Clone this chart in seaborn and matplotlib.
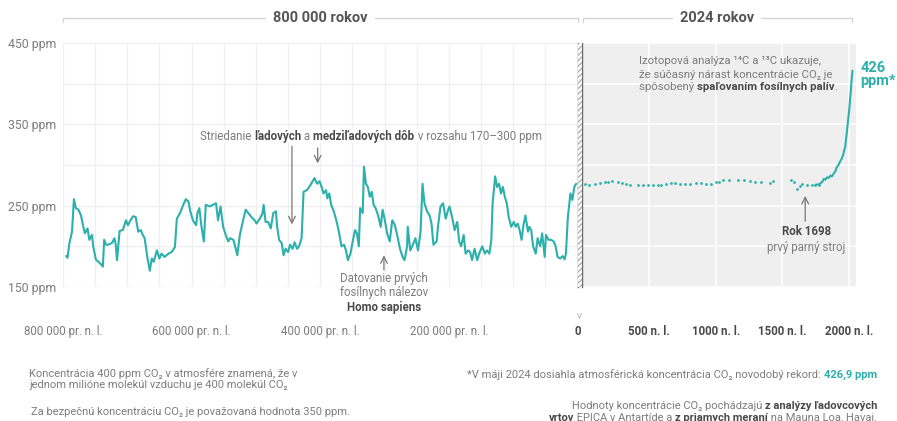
import matplotlib
matplotlib.use("Agg")
import matplotlib.pyplot as plt
import matplotlib.transforms as mtransforms
from matplotlib.patches import Rectangle
from matplotlib.ticker import FixedLocator, MultipleLocator
import pandas as pd
import seaborn as sns

TEAL = "#2bb0ab"
GREY = "#7c7c7c"
DARK = "#4a4a4a"
REG = "normal"

# --- EPICA ice core (thousands of years before present, ppm) ---
ice_age_ka = [795, 793, 790, 786, 783, 780, 776, 772, 769, 766, 762, 759, 755, 753, 749, 745,
              741, 738, 736, 733, 730, 724, 720, 718, 716, 712, 707, 702, 699, 695, 691, 687,
              683, 679, 676, 673, 669, 665, 662, 659, 654, 650, 647, 642, 636, 631, 626, 623,
              618, 613, 609, 605, 602, 598, 593, 591, 588, 585, 581, 578, 572, 567, 562, 559,
              555, 551, 547, 543, 540, 535, 533, 529, 525, 520, 516, 512, 507, 502, 499, 494,
              490, 488, 485, 481, 477, 473, 469, 467, 464, 460, 457, 454, 450, 447, 443, 440,
              436, 433, 429, 426, 421, 417, 412, 409, 405, 401, 397, 395, 391, 389, 386, 383,
              379, 375, 371, 367, 363, 360, 357, 353, 350, 346, 343, 340, 338, 334, 332, 329,
              326, 323, 320, 317, 314, 310, 306, 303, 300, 296, 292, 288, 284, 281, 276, 272,
              269, 265, 264, 260, 256, 252, 248, 244, 241, 238, 234, 230, 227, 224, 219, 217,
              213, 209, 205, 201, 199, 195, 191, 187, 184, 181, 177, 174, 170, 167, 164, 160,
              156, 152, 148, 144, 141, 137, 134, 132, 128, 125, 122, 119, 116, 113, 110, 107,
              103, 99, 96, 93, 90, 87, 84, 81, 77, 75, 72, 69, 65, 62, 58, 55,
              51, 49, 45, 41, 37, 34, 31, 27, 23, 20, 18, 15, 11, 8, 5, 2]
ice_ppm = [188, 186, 204, 218, 258, 247, 245, 238, 226, 216, 222, 208, 214, 200, 184, 181,
           178, 175, 208, 202, 202, 204, 210, 202, 183, 219, 220, 232, 226, 232, 237, 236,
           218, 220, 214, 210, 187, 170, 185, 181, 195, 185, 191, 187, 191, 193, 199, 234,
           241, 251, 258, 255, 243, 232, 226, 241, 247, 226, 206, 251, 249, 251, 253, 232,
           249, 224, 214, 206, 210, 208, 202, 189, 214, 232, 245, 241, 236, 232, 228, 234,
           240, 251, 230, 230, 222, 241, 243, 224, 208, 204, 189, 197, 193, 202, 197, 205,
           197, 200, 210, 267, 269, 273, 280, 284, 277, 280, 271, 265, 269, 259, 265, 251,
           243, 232, 218, 200, 202, 195, 183, 191, 204, 220, 216, 200, 247, 241, 298, 277,
           273, 261, 267, 251, 247, 238, 224, 245, 234, 216, 206, 232, 226, 216, 197, 187,
           183, 200, 224, 195, 202, 210, 195, 218, 277, 253, 243, 238, 228, 202, 206, 224,
           249, 253, 234, 245, 249, 236, 220, 230, 206, 200, 214, 191, 195, 193, 183, 197,
           183, 193, 200, 191, 195, 191, 208, 253, 286, 273, 277, 265, 273, 261, 253, 236,
           224, 230, 224, 228, 220, 208, 226, 238, 218, 224, 220, 200, 191, 210, 200, 216,
           187, 214, 208, 208, 206, 200, 187, 185, 188, 184, 191, 236, 265, 257, 273, 277]

# --- last 2000 years: sparse ice core samples (AD year, ppm) ---
dot_year = [20, 50, 99, 136, 169, 198, 223, 267, 297, 327, 359, 421, 458, 496, 532, 570,
            594, 632, 664, 694, 731, 768, 805, 854, 892, 929, 966, 1003, 1028, 1058, 1102,
            1164, 1209, 1258, 1293, 1337, 1407, 1432, 1560, 1585, 1610, 1630, 1647, 1684,
            1722, 1746, 1771]
dot_ppm = [277, 276, 277, 278, 279, 279, 280, 279, 278, 277, 276, 276, 275, 275, 275, 276,
           276, 277, 278, 278, 277, 277, 277, 278, 278, 277, 277, 279, 279, 281, 282,
           282, 282, 280, 279, 279, 278, 280, 281, 279, 270, 274, 277, 275,
           276, 275, 276]

# --- industrial era (ice core + Mauna Loa) ---
modern_year = [1750, 1771, 1796, 1810, 1820, 1835, 1845, 1860, 1870, 1885, 1895, 1905, 1919,
               1930, 1944, 1955, 1960, 1969, 1975, 1980, 1985, 1990, 1995, 2000, 2005, 2010,
               2015, 2020, 2024]
modern_ppm = [276, 276, 279, 283, 282, 285, 284, 287, 286, 290, 292, 297, 300,
              304, 308, 313, 317, 322, 331, 338, 346, 354, 361, 369, 379, 389,
              400, 410, 416]

old_ticks = [-800000, -600000, -400000, -200000, 0]
old_labels = ["800 000 pr. n. l.", "600 000 pr. n. l.", "400 000 pr. n. l.", "200 000 pr. n. l.", "0"]
new_ticks = [500, 1000, 1500, 2000]
new_labels = ["500 n. l.", "1000 n. l.", "1500 n. l.", "2000 n. l."]
y_ticks = [150, 250, 350, 450]
y_labels = ["150 ppm", "250 ppm", "350 ppm", "450 ppm"]

ice = pd.DataFrame({"year": [-a * 1000 for a in ice_age_ka], "ppm": ice_ppm})
dots = pd.DataFrame({"year": dot_year, "ppm": dot_ppm})
modern = pd.DataFrame({"year": modern_year, "ppm": modern_ppm})

sns.set_theme(style="white")
plt.rcParams["font.family"] = ["Roboto", "DejaVu Sans"]

W, H = 897, 421
fig = plt.figure(figsize=(W / 100, H / 100), dpi=100)
ax_old = fig.add_axes([63 / W, 1 - 287 / H, (577.5 - 63) / W, 244 / H])
ax_new = fig.add_axes([582 / W, 1 - 287 / H, (856 - 582) / W, 244 / H])

sns.lineplot(data=ice, x="year", y="ppm", ax=ax_old, color=TEAL, lw=1.5,
             estimator=None, legend=False)
sns.scatterplot(data=dots, x="year", y="ppm", ax=ax_new, color=TEAL, s=4,
                linewidth=0, legend=False, zorder=3)
sns.lineplot(data=modern, x="year", y="ppm", ax=ax_new, color=TEAL, lw=1.5,
             estimator=None, legend=False, zorder=3)

for ax in (ax_old, ax_new):
    ax.set_ylim(150, 450)
    ax.set_xlabel("")
    ax.set_ylabel("")
    ax.yaxis.set_major_locator(FixedLocator(y_ticks))
    ax.yaxis.set_minor_locator(MultipleLocator(50))
    for s in ("top", "left", "right"):
        ax.spines[s].set_visible(False)
    ax.spines["bottom"].set_position(("outward", 18))
    ax.spines["bottom"].set_color("none")
    ax.tick_params(axis="x", which="major", length=4.5, width=0.7, color="#bdbdbd", pad=5)
    ax.tick_params(which="minor", length=0)
    ax.tick_params(axis="y", length=0)
    ax.set_axisbelow(True)

ax_old.set_xlim(-800000, 0)
ax_old.xaxis.set_major_locator(FixedLocator(old_ticks))
ax_old.xaxis.set_minor_locator(MultipleLocator(50000))
ax_old.set_xticklabels(old_labels, fontsize=8.3, color=GREY, fontweight=REG)
ax_old.set_yticklabels(y_labels, fontsize=8.8, color=GREY, fontweight=REG)
ax_old.tick_params(axis="y", pad=4.5)
ax_old.grid(which="both", color="#efefef", lw=0.9)
zero_tick = ax_old.xaxis.get_major_ticks()[-1]
zero_tick.tick1line.set_visible(False)
zero_tick.label1.set_fontweight("bold")
zero_tick.label1.set_color(DARK)
ax_old.spines["right"].set_visible(True)
ax_old.spines["right"].set_color("#6a6a6a")
ax_old.spines["right"].set_linewidth(1)

ax_new.set_xlim(0, 2050)
ax_new.set_facecolor("#efefef")
ax_new.xaxis.set_major_locator(FixedLocator(new_ticks))
ax_new.set_xticklabels(new_labels, fontsize=8.3, color=DARK, fontweight="bold")
ax_new.set_yticklabels([])
ax_new.grid(which="both", color="white", lw=1.1)
ax_new.spines["left"].set_visible(True)
ax_new.spines["left"].set_color("#6a6a6a")
ax_new.spines["left"].set_linewidth(1)

# hatched break between the two time scales
fig.add_artist(Rectangle((577.5 / W, 1 - 287 / H), 4.5 / W, 244 / H, transform=fig.transFigure,
                         facecolor="white", edgecolor="#b0b0b0", hatch="//////", lw=0))
ax_old.annotate("v", xy=(0, 0), xycoords=("data", "axes fraction"), xytext=(1.5, -29),
                textcoords="offset pixels", ha="center", va="center", fontsize=7.5,
                color="#b5b5b5", annotation_clip=False)


def bracket(ax, x0, x1, label):
    tr = mtransforms.blended_transform_factory(ax.transData, ax.transAxes)
    ax.plot([x0, x0, x1, x1], [1.085, 1.102, 1.102, 1.085], transform=tr,
            color="#d2d2d2", lw=0.9, clip_on=False)
    ax.text((x0 + x1) / 2, 1.102, label, transform=tr, ha="center", va="center",
            fontsize=10.5, fontweight="bold", color="#555555",
            bbox=dict(fc="white", ec="none", pad=5))


bracket(ax_old, -800000, 0, "800 000 rokov")
bracket(ax_new, 5, 2020, "2024 rokov")


def rich(ax, xy, parts, xycoords="data", ha="left", va="bottom", fontsize=8.3, bbox=None,
         offset=(0, 0)):
    """Draw text pieces of mixed weight on one line."""
    order = parts if ha == "left" else parts[::-1]
    prev = None
    for txt, bold, color in order:
        kw = dict(fontsize=fontsize, color=color, fontweight="bold" if bold else REG,
                  ha=ha, annotation_clip=False)
        if bbox:
            kw["bbox"] = bbox
        if prev is None:
            prev = ax.annotate(txt, xy=xy, xycoords=xycoords, va=va, xytext=offset,
                               textcoords="offset points", **kw)
        else:
            prev = ax.annotate(txt, xy=(1, 0) if ha == "left" else (0, 0), xycoords=prev,
                               va="bottom", **kw)
    return prev


rich(ax_old, (-587000, 327.5), [
    ("Striedanie ", False, GREY), ("ľadových", True, DARK), (" a ", False, GREY),
    ("medziľadových dôb", True, DARK), (" v rozsahu 170–300 ppm", False, GREY)],
    bbox=dict(fc="white", ec="none", pad=0.6))

arrow = dict(arrowstyle="->", color="#777777", lw=0.9, shrinkA=0, shrinkB=0)
ax_old.annotate("", xy=(-444000, 227), xytext=(-444000, 323), arrowprops=arrow)
ax_old.annotate("", xy=(-404000, 302), xytext=(-404000, 321), arrowprops=arrow)
ax_old.annotate("", xy=(-301000, 189), xytext=(-301000, 171), arrowprops=arrow,
                annotation_clip=False)

hs = ax_old.text(-301000, 168, "Datovanie prvých\nfosílnych nálezov", ha="center", va="top",
                 fontsize=8.3, color=GREY, fontweight=REG, linespacing=1.1,
                 bbox=dict(fc="white", ec="none", pad=0.6))
ax_old.annotate("Homo sapiens", xy=(0.5, 0), xycoords=hs, xytext=(0, -1),
                textcoords="offset points", ha="center", va="top", fontsize=8.3,
                color=DARK, fontweight="bold")

# right panel notes
iso = ax_new.text(427, 434, "Izotopová analýza ¹⁴C a ¹³C ukazuje,\nže súčasný nárast koncentrácie CO₂ je",
                  ha="left", va="top", fontsize=8.2, color=GREY, fontweight=REG,
                  linespacing=1.45)
rich(ax_new, (0, 0), [("spôsobený ", False, GREY), ("spaľovaním fosílnych palív", True, DARK),
                      (".", False, GREY)], xycoords=iso, va="top", fontsize=8.2,
     offset=(0, -1.2))

ax_new.annotate("", xy=(1670, 262), xytext=(1670, 231), arrowprops=arrow)
ax_new.text(1678, 218, "Rok 1698", ha="center", va="center", fontsize=8.3,
            color=DARK, fontweight="bold")
ax_new.text(1678, 199, "prvý parný stroj", ha="center", va="center", fontsize=8.3,
            color=GREY, fontweight=REG)

ax_new.text(2085, 411, "426\nppm*", ha="left", va="center", fontsize=10.5, color=TEAL,
            fontweight="bold", linespacing=0.95, clip_on=False)

# footnotes
fig.text(29 / W, 1 - 379 / H, "Koncentrácia 400 ppm CO₂ v atmosfére znamená, že v\n"
         "jednom milióne molekúl vzduchu je 400 molekúl CO₂", ha="left", va="center",
         fontsize=8, color=GREY, fontweight=REG, linespacing=1.2)
fig.text(31 / W, 1 - 412 / H, "Za bezpečnú koncentráciu CO₂ je považovaná hodnota 350 ppm.",
         ha="left", va="center", fontsize=8, color=GREY, fontweight=REG)

rich(ax_new, (877 / W, 1 - 380 / H), [
    ("*V máji 2024 dosiahla atmosférická koncentrácia CO₂ novodobý rekord: ", False, GREY),
    ("426,9 ppm", True, TEAL)], xycoords="figure fraction", ha="right", fontsize=8)
rich(ax_new, (877 / W, 1 - 411 / H), [
    ("Hodnoty koncentrácie CO₂ pochádzajú ", False, GREY),
    ("z analýzy ľadovcových", True, DARK)], xycoords="figure fraction", ha="right", fontsize=8)
rich(ax_new, (877 / W, 1 - 423 / H), [
    ("vrtov", True, DARK), (" EPICA v Antartíde a ", False, GREY),
    ("z priamych meraní", True, DARK), (" na Mauna Loa, Havaj.", False, GREY)],
    xycoords="figure fraction", ha="right", fontsize=8)

fig.savefig("out.png", dpi=100)
